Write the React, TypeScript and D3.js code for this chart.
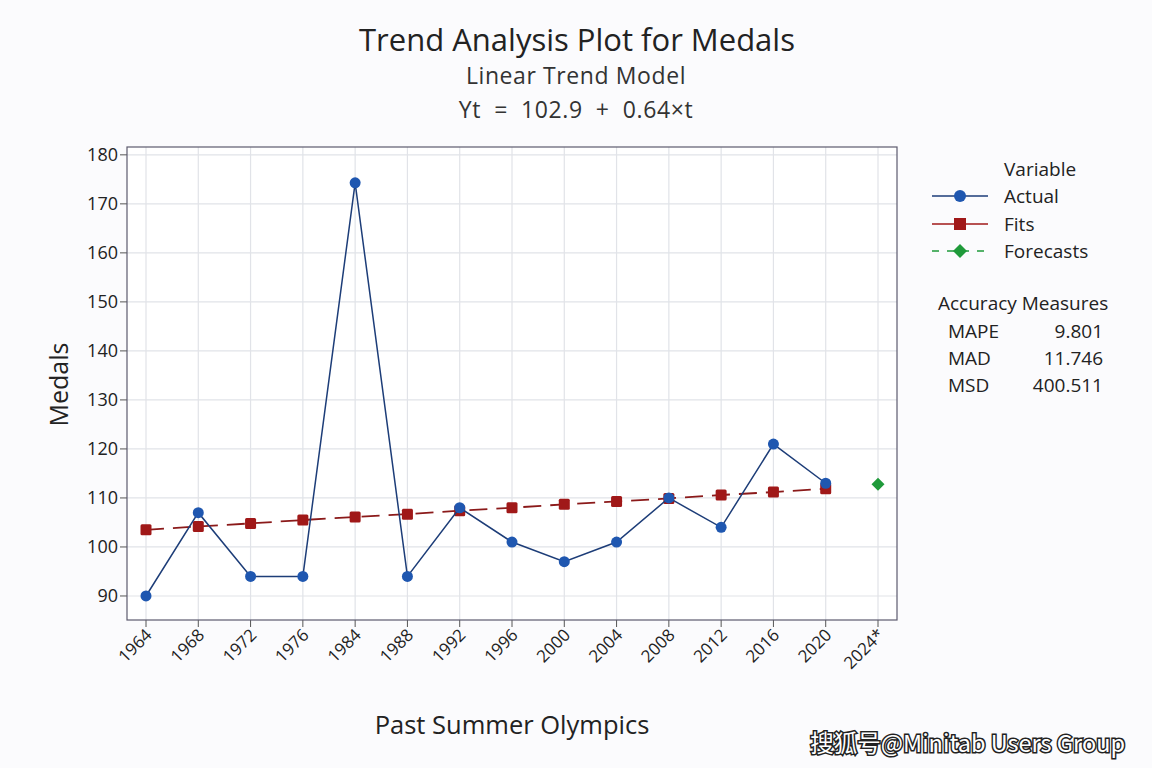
import React from "react";
import * as d3 from "d3";

const years = ["1964", "1968", "1972", "1976", "1984", "1988", "1992", "1996", "2000", "2004", "2008", "2012", "2016", "2020", "2024*"];
const actual = [90, 107, 94, 94, 174.3, 94, 108, 101, 97, 101, 110, 104, 121, 113];
const fits = [103.5, 104.2, 104.8, 105.5, 106.1, 106.7, 107.4, 108.0, 108.7, 109.3, 109.9, 110.6, 111.2, 111.9];
const forecasts = [112.8];
const yTicks = [90, 100, 110, 120, 130, 140, 150, 160, 170, 180];
const measures = [
  ["MAPE", "9.801"],
  ["MAD", "11.746"],
  ["MSD", "400.511"],
];

const W = 1152;
const H = 768;
const left = 127;
const right = 897;
const top = 147;
const bottom = 620;
const font = "'Open Sans', 'Noto Sans', sans-serif";

const App = () => {
  const x = d3
    .scalePoint<string>()
    .domain(years)
    .range([left + 19, right - 19]);
  const y = d3.scaleLinear().domain([85.1, 181.6]).range([bottom, top]);

  const seriesLine = d3
    .line<number>()
    .x((d, i) => x(years[i])!)
    .y((d) => y(d));

  const diamond = (cx: number, cy: number, r: number) =>
    `M${cx},${cy - r}L${cx + r},${cy}L${cx},${cy + r}L${cx - r},${cy}Z`;

  return (
    <svg width={W} height={H} style={{ display: "block", position: "absolute", left: 0, top: 0 }}>
      <rect x={0} y={0} width={W} height={H} fill="#fbfbfd" />
      <text x={577} y={51} textAnchor="middle" fontFamily={font} fontSize={31} fill="#222">
        Trend Analysis Plot for Medals
      </text>
      <text x={576} y={84} textAnchor="middle" fontFamily={font} fontSize={23} letterSpacing={0.6} fill="#333">
        Linear Trend Model
      </text>
      <text x={576} y={118} textAnchor="middle" fontFamily={font} fontSize={23} letterSpacing={0.6} fill="#333" style={{ whiteSpace: "pre" }}>
        Yt  =  102.9  +  0.64×t
      </text>

      <rect x={left} y={top} width={right - left} height={bottom - top} fill="#ffffff" />
      {yTicks.map((t) => (
        <g key={t}>
          <line x1={left} x2={right} y1={y(t)} y2={y(t)} stroke="#e1e3e8" strokeWidth={1.2} />
          <line x1={left - 7} x2={left} y1={y(t)} y2={y(t)} stroke="#555" />
          <text x={left - 9} y={y(t) + 6.5} textAnchor="end" fontFamily={font} fontSize={18} fill="#222">
            {t}
          </text>
        </g>
      ))}
      {years.map((yr) => (
        <g key={yr}>
          <line x1={x(yr)} x2={x(yr)} y1={top} y2={bottom} stroke="#e1e3e8" strokeWidth={1.2} />
          <line x1={x(yr)} x2={x(yr)} y1={bottom} y2={bottom + 7} stroke="#555" />
          <text
            transform={`translate(${x(yr)! + 7},${bottom + 16}) rotate(-45)`}
            textAnchor="end"
            fontFamily={font}
            fontSize={17}
            fill="#222"
          >
            {yr}
          </text>
        </g>
      ))}
      <rect x={left} y={top} width={right - left} height={bottom - top} fill="none" stroke="#5c5a6e" strokeWidth={1.2} />

      <path
        d={seriesLine(fits) ?? ""}
        fill="none"
        stroke="#8b1a1a"
        strokeWidth={1.8}
        strokeDasharray="18,9"
      />
      {fits.map((d, i) => (
        <rect key={i} x={x(years[i])! - 5.5} y={y(d) - 5.5} width={11} height={11} rx={1.5} fill="#a01818" />
      ))}
      <path d={seriesLine(actual) ?? ""} fill="none" stroke="#1d3d78" strokeWidth={1.5} />
      {actual.map((d, i) => (
        <circle key={i} cx={x(years[i])} cy={y(d)} r={5.5} fill="#1f57b0" />
      ))}
      {forecasts.map((d, i) => (
        <path key={i} d={diamond(x(years[fits.length + i])!, y(d), 6.5)} fill="#1f9a3a" />
      ))}

      <text
        transform={`translate(68,${(top + bottom) / 2 + 1}) rotate(-90)`}
        textAnchor="middle"
        fontFamily={font}
        fontSize={25}
        fill="#222"
      >
        Medals
      </text>
      <text x={512} y={734} textAnchor="middle" fontFamily={font} fontSize={25.5} fill="#222">
        Past Summer Olympics
      </text>

      <text x={1004} y={176} fontFamily={font} fontSize={19} fill="#222">Variable</text>
      <line x1={932} x2={988} y1={196} y2={196} stroke="#1d3d78" strokeWidth={1.5} />
      <circle cx={960} cy={196} r={6} fill="#1f57b0" />
      <text x={1004} y={203} fontFamily={font} fontSize={19} fill="#222">Actual</text>
      <line x1={932} x2={988} y1={224} y2={224} stroke="#a01818" strokeWidth={1.5} />
      <rect x={954} y={218} width={12} height={12} fill="#a01818" />
      <text x={1004} y={231} fontFamily={font} fontSize={19} fill="#222">Fits</text>
      <line x1={932} x2={988} y1={251} y2={251} stroke="#1f9a3a" strokeWidth={1.5} strokeDasharray="7,8" />
      <path d={diamond(960, 251, 7)} fill="#1f9a3a" />
      <text x={1004} y={258} fontFamily={font} fontSize={19} fill="#222">Forecasts</text>

      <text x={938} y={310} fontFamily={font} fontSize={19} fill="#222">Accuracy Measures</text>
      {measures.map((m, i) => (
        <g key={m[0]}>
          <text x={948} y={338 + i * 27} fontFamily={font} fontSize={19} fill="#222">{m[0]}</text>
          <text x={1103} y={338 + i * 27} textAnchor="end" fontFamily={font} fontSize={19} fill="#222">{m[1]}</text>
        </g>
      ))}

      <text
        x={1125}
        y={752}
        textAnchor="end"
        fontFamily="'Noto Sans CJK SC', 'Liberation Sans', sans-serif"
        fontSize={23.5}
        fill="#ffffff"
        stroke="#222"
        strokeWidth={3}
        paintOrder="stroke"
      >
        搜狐号@Minitab Users Group
      </text>
    </svg>
  );
};

export default App;
